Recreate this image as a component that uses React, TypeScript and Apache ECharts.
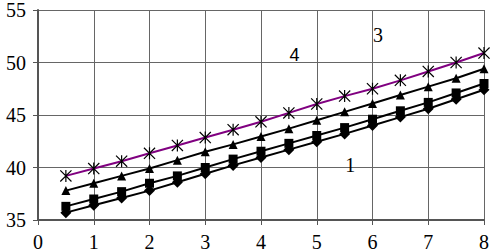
import React, { useEffect, useRef } from "react";
import * as echarts from "echarts";

const xValues = [0.5, 1, 1.5, 2, 2.5, 3, 3.5, 4, 4.5, 5, 5.5, 6, 6.5, 7, 7.5, 8];
const series1 = [35.7, 36.4, 37.1, 37.8, 38.6, 39.4, 40.2, 40.95, 41.7, 42.45, 43.2, 44.0, 44.8, 45.6, 46.5, 47.4];
const series2 = [36.3, 37.0, 37.7, 38.5, 39.2, 40.0, 40.8, 41.55, 42.3, 43.05, 43.8, 44.6, 45.4, 46.2, 47.1, 48.0];
const series3 = [37.8, 38.5, 39.2, 39.9, 40.7, 41.5, 42.2, 42.95, 43.7, 44.5, 45.3, 46.1, 46.9, 47.7, 48.5, 49.4];
const series4 = [39.2, 39.9, 40.6, 41.35, 42.1, 42.85, 43.6, 44.35, 45.2, 46.05, 46.8, 47.5, 48.3, 49.15, 50.0, 50.9];
const SERIF = "'Liberation Serif', 'Times New Roman', Times, serif";
const SANS = "'Liberation Sans', Arial, sans-serif";
const curveLabels = [
  { name: "4", coord: [4.6, 50.7], font: SANS, size: 18 },
  { name: "3", coord: [6.1, 52.6], font: SERIF, size: 20 },
  { name: "1", coord: [5.6, 40.2], font: SERIF, size: 20 },
];

const STAR =
  "path://M9 0 L11 0 L11 20 L9 20 Z M1.4 0 L20 18.6 L18.6 20 L0 1.4 Z M18.6 0 L20 1.4 L1.4 20 L0 18.6 Z";

const pair = (ys: number[]) => xValues.map((x, i) => [x, ys[i]]);

export default function App() {
  const ref = useRef<HTMLDivElement>(null);
  useEffect(() => {
    if (!ref.current) return;
    const chart = echarts.init(ref.current, undefined, { renderer: "svg" });
    chart.setOption({
      animation: false,
      backgroundColor: "#ffffff",
      textStyle: { fontFamily: SERIF },
      grid: { left: 38, top: 7, width: 448, height: 213 },
      xAxis: {
        type: "value",
        min: 0,
        max: 8,
        interval: 1,
        axisLine: { show: true, onZero: false, lineStyle: { color: "#555", width: 2 } },
        axisTick: { show: true, length: 5, lineStyle: { color: "#555", width: 1 } },
        axisLabel: { color: "#000", fontFamily: SERIF, fontSize: 20, margin: 12 },
        splitLine: { show: true, lineStyle: { color: "#666", width: 1 } },
      },
      yAxis: {
        type: "value",
        min: 35,
        max: 55,
        interval: 5,
        axisLine: { show: true, lineStyle: { color: "#555", width: 2 } },
        axisTick: { show: true, length: 5, lineStyle: { color: "#555", width: 1 } },
        axisLabel: { color: "#000", fontFamily: SERIF, fontSize: 20, margin: 12 },
        splitLine: { show: true, lineStyle: { color: "#666", width: 1 } },
      },
      series: [
        {
          type: "line",
          data: pair(series1),
          symbol: "diamond",
          symbolSize: 11,
          lineStyle: { color: "#000", width: 2 },
          itemStyle: { color: "#000" },
          markPoint: {
            symbol: "circle",
            symbolSize: 1,
            itemStyle: { color: "rgba(0,0,0,0)" },
            data: curveLabels.map((l) => ({
              name: l.name,
              coord: l.coord,
              label: {
                show: true,
                formatter: l.name,
                color: "#000",
                fontFamily: l.font,
                fontSize: l.size,
                position: "inside",
              },
            })),
          },
        },
        {
          type: "line",
          data: pair(series2),
          symbol: "rect",
          symbolSize: 9,
          lineStyle: { color: "#000", width: 2 },
          itemStyle: { color: "#000" },
        },
        {
          type: "line",
          data: pair(series3),
          symbol: "triangle",
          symbolSize: 9,
          lineStyle: { color: "#000", width: 2 },
          itemStyle: { color: "#000" },
        },
        {
          type: "line",
          data: pair(series4),
          symbol: STAR,
          symbolSize: 12,
          lineStyle: { color: "#800080", width: 2 },
          itemStyle: { color: "#000" },
        },
      ],
    });
    return () => chart.dispose();
  }, []);
  return (
    <div
      ref={ref}
      style={{ position: "fixed", left: 0, top: 0, width: 492, height: 252, background: "#fff" }}
    />
  );
}
